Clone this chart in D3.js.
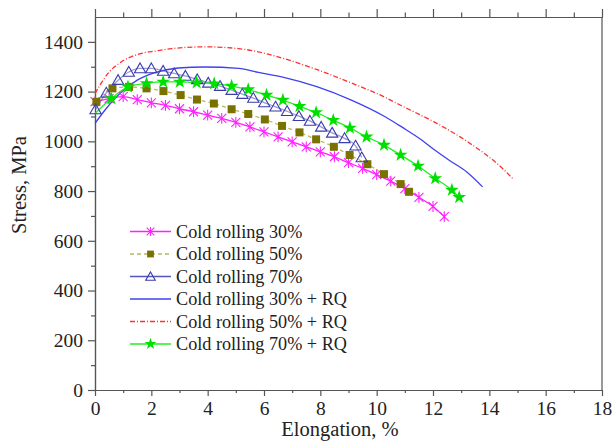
<!DOCTYPE html>
<html><head><meta charset="utf-8">
<script src="https://cdn.jsdelivr.net/npm/d3@7/dist/d3.min.js"></script>
<style>body{margin:0;background:#fff}svg{display:block}text{font-family:"Liberation Serif","Times New Roman",serif;fill:#222}</style>
</head><body><svg id="c" width="615" height="444"></svg>
<script>
// ---- data ----
const cr30X = [0,0.5,1.0,1.5,2.0,2.5,3.0,3.5,4.0,4.5,5.0,5.5,6.0,6.5,7.0,7.5,8.0,8.5,9.0,9.5,10.0,10.5,11.0,11.5,12.0,12.4];
const cr30Y = [1160,1172,1180,1168,1155,1145,1131,1119,1105,1092,1076,1058,1038,1018,998,978,958,938,914,891,866,840,810,775,738,697];
const cr50X = [0.05,0.62,1.21,1.83,2.43,3.04,3.62,4.22,4.85,5.44,6.03,6.64,7.26,7.85,8.48,9.04,9.67,10.26,10.85,11.15];
const cr50Y = [1159,1213,1219,1213,1202,1186,1168,1152,1129,1110,1088,1062,1036,1008,978,945,908,868,828,797];
const cr70X = [0.02,0.4,0.82,1.2,1.6,2.0,2.42,2.81,3.21,3.63,4.02,4.44,4.85,5.23,5.62,6.01,6.41,6.82,7.24,7.63,8.03,8.42,8.86,9.25,9.47];
const cr70Y = [1128,1195,1246,1279,1293,1293,1283,1273,1263,1249,1235,1222,1206,1190,1174,1156,1139,1121,1101,1082,1058,1034,1012,982,935];
const cr30rqX = [0,0.35,0.95,1.5,2.1,2.95,3.9,5.1,5.8,6.7,7.9,9.1,10.3,10.9,11.6,12.0,12.6,13.2,13.76];
const cr30rqY = [1072,1125,1199,1246,1275,1295,1299,1293,1277,1257,1219,1166,1099,1057,1005,970,922,877,817];
const cr50rqX = [0,0.46,0.94,1.53,2.2,2.72,3.9,5.09,5.8,6.7,7.89,9.07,10.26,10.85,11.57,12.04,13.23,14.41,14.86];
const cr50rqY = [1192,1273,1320,1350,1364,1373,1380,1373,1360,1333,1288,1236,1179,1145,1105,1078,998,897,847];
const cr70rqX = [0,0.58,1.17,1.83,2.42,3.01,3.61,4.23,4.85,5.44,6.09,6.67,7.26,7.85,8.46,9.05,9.64,10.26,10.85,11.47,12.08,12.67,12.93];
const cr70rqY = [1112,1172,1219,1233,1239,1239,1236,1232,1222,1208,1186,1166,1141,1116,1085,1054,1018,985,945,901,851,804,775];
const seriesNames = ["Cold rolling 30%","Cold rolling 50%","Cold rolling 70%","Cold rolling 30% + RQ","Cold rolling 50% + RQ","Cold rolling 70% + RQ"];
const xTicks = [0,2,4,6,8,10,12,14,16,18];
const yTicks = [0,200,400,600,800,1000,1200,1400];
const xLabel = "Elongation, %";
const yLabel = "Stress, MPa";

const series = [
  {name:seriesNames[0], xs:cr30X, ys:cr30Y, color:"#ff22ff", dash:null, marker:"aster", mStart:0},
  {name:seriesNames[1], xs:cr50X, ys:cr50Y, color:"#b8b860", mcolor:"#7a7200", dash:"4,3", marker:"square", mStart:0},
  {name:seriesNames[2], xs:cr70X, ys:cr70Y, color:"#5555c0", mcolor:"#3a3aaa", dash:null, marker:"tri", mStart:0, lineOpacity:0.6},
  {name:seriesNames[3], xs:cr30rqX, ys:cr30rqY, color:"#4040f0", dash:null, marker:null},
  {name:seriesNames[4], xs:cr50rqX, ys:cr50rqY, color:"#ff3030", dash:"5,2,1,2", marker:null},
  {name:seriesNames[5], xs:cr70rqX, ys:cr70rqY, color:"#22ee22", mcolor:"#00e000", dash:null, marker:"star", mStart:1}
];

const svg = d3.select("#c");
const L=95, R=602, T=17, B=390;
const x = d3.scaleLinear().domain([0,18]).range([L,R]);
const y = d3.scaleLinear().domain([0,1500]).range([B,T]);
const axisColor = "#555";
const serif = '"Liberation Serif","Times New Roman",serif';

function styleAxis(g){ g.attr("font-family",serif);
  g.selectAll(".domain").attr("stroke",axisColor).attr("stroke-width",1.2);
  g.selectAll(".tick line").attr("stroke",axisColor).attr("stroke-width",1.2);
  g.selectAll("text").style("font-size","19.5px").style("font-family",serif).attr("fill","#222"); }

const xMinor = d3.range(1,18,2);
const yMinor = d3.range(100,1500,200);

svg.append("g").attr("transform",`translate(0,${B})`)
  .call(d3.axisBottom(x).tickValues(xMinor).tickSize(3).tickFormat("").tickSizeOuter(0)).call(styleAxis);
svg.append("g").attr("transform",`translate(0,${B})`)
  .call(d3.axisBottom(x).tickValues(xTicks).tickSize(6).tickPadding(5).tickFormat(d3.format("d")).tickSizeOuter(0)).call(styleAxis);
svg.append("g").attr("transform",`translate(0,${T})`)
  .call(d3.axisTop(x).tickValues(xMinor).tickSize(4.5).tickFormat("").tickSizeOuter(0)).call(styleAxis);
svg.append("g").attr("transform",`translate(0,${T})`)
  .call(d3.axisTop(x).tickValues(xTicks).tickSize(8).tickFormat("").tickSizeOuter(0)).call(styleAxis);
svg.append("g").attr("transform",`translate(${L},0)`)
  .call(d3.axisLeft(y).tickValues(yMinor).tickSize(4).tickFormat("").tickSizeOuter(0)).call(styleAxis);
svg.append("g").attr("transform",`translate(${L},0)`)
  .call(d3.axisLeft(y).tickValues(yTicks).tickSize(7).tickPadding(5).tickFormat(d3.format("d")).tickSizeOuter(0)).call(styleAxis);
svg.append("line").attr("x1",R).attr("x2",R).attr("y1",T).attr("y2",B).attr("stroke",axisColor).attr("stroke-width",1.2);

svg.append("text").attr("x",340).attr("y",436).attr("text-anchor","middle").style("font-size","20.5px").text(xLabel);
svg.append("text").attr("transform","translate(26,185) rotate(-90)").attr("text-anchor","middle").style("font-size","20.5px").text(yLabel);

const starPath = d3.symbol().type(d3.symbolStar).size(60)();
const triPath = d3.symbol().type(d3.symbolTriangle).size(55)();
function drawMarker(g, s, cx, cy, scale){
  const k = scale||1;
  const mc = s.mcolor||s.color;
  if(s.marker==="square"){
    g.append("rect").attr("x",cx-4*k).attr("y",cy-4*k).attr("width",8*k).attr("height",8*k).attr("fill",mc);
  } else if(s.marker==="tri"){
    g.append("path").attr("d",triPath).attr("transform",`translate(${cx},${cy+1}) scale(${k})`).attr("fill","none").attr("stroke",mc).attr("stroke-width",1.1/k);
  } else if(s.marker==="star"){
    g.append("path").attr("d",starPath).attr("transform",`translate(${cx},${cy}) scale(${k})`).attr("fill",mc);
  } else if(s.marker==="aster"){
    const r=4.5*k;
    const p = `M${cx-r},${cy-r}L${cx+r},${cy+r}M${cx-r},${cy+r}L${cx+r},${cy-r}M${cx},${cy-r*1.2}L${cx},${cy+r*1.2}`;
    g.append("path").attr("d",p).attr("stroke",mc).attr("stroke-width",1.1).attr("fill","none");
  }
}

const line = d3.line().x(d=>x(d[0])).y(d=>y(d[1])).curve(d3.curveMonotoneX);
const plot = svg.append("g");
series.forEach(s=>{
  const pts = s.xs.map((v,i)=>[v,s.ys[i]]);
  plot.append("path").attr("d",line(pts)).attr("fill","none").attr("stroke",s.color)
    .attr("stroke-width",1.3).attr("stroke-dasharray",s.dash).attr("stroke-opacity",s.lineOpacity||1);
});
series.forEach(s=>{
  if(!s.marker) return;
  const g = plot.append("g");
  s.xs.forEach((v,i)=>{ if(i>=s.mStart) drawMarker(g,s,x(v),y(s.ys[i]),1); });
});

const leg = svg.append("g");
series.forEach((s,i)=>{
  const yy = 231.5 + i*22.5;
  leg.append("line").attr("x1",130).attr("x2",171).attr("y1",yy).attr("y2",yy).attr("stroke",s.color)
    .attr("stroke-width",1.3).attr("stroke-dasharray",s.dash);
  if(s.marker) drawMarker(leg, s, 150.5, yy, 0.85);
  leg.append("text").attr("x",176).attr("y",yy+6).style("font-size","18.2px").text(s.name);
});
</script></body></html>
